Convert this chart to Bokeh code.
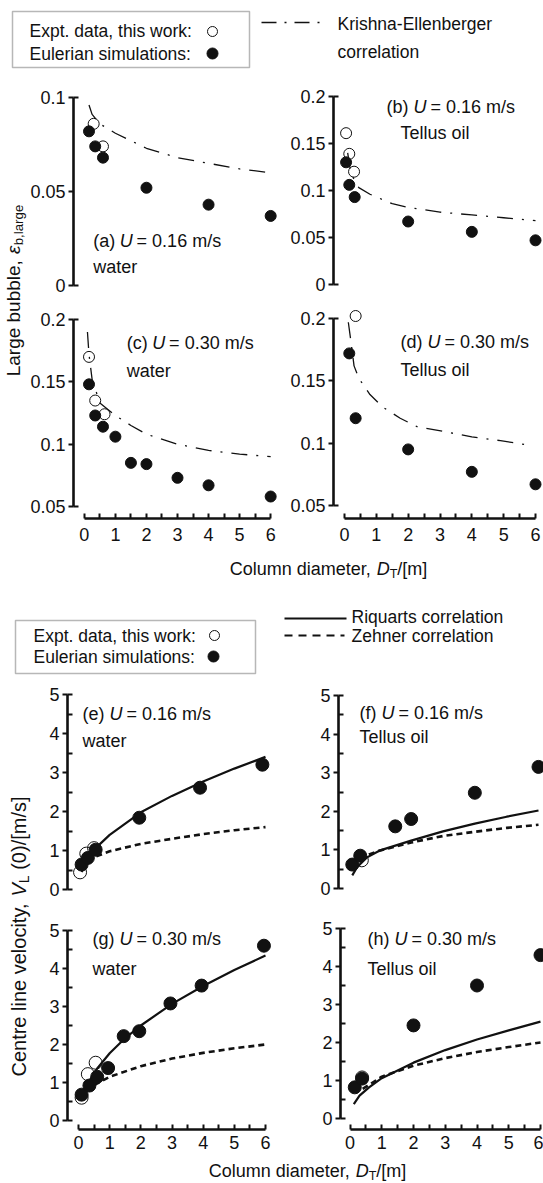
import math
from bokeh.plotting import figure
from bokeh.layouts import row, column
from bokeh.models import Range1d, FixedTicker, CustomJSTickFormatter, Label, BoxAnnotation
from bokeh.embed import file_html
from bokeh.resources import INLINE

FONT = "Liberation Sans"
INK = "#111111"

# ------------------------------------------------------------------
# Large-bubble hold-up eps_b,large [-] against column diameter D_T [m]
# ------------------------------------------------------------------
a_sim_d = [0.15, 0.35, 0.6, 2.0, 4.0, 6.0]
a_sim_eps = [0.082, 0.074, 0.068, 0.052, 0.043, 0.037]
a_exp_d = [0.3, 0.6]
a_exp_eps = [0.086, 0.074]
a_ke_d = [0.15, 0.25, 0.5, 1.0, 1.5, 2.0, 3.0, 4.0, 5.0, 6.0]
a_ke_eps = [0.096, 0.091, 0.086, 0.081, 0.077, 0.073, 0.068, 0.065, 0.062, 0.060]

b_sim_d = [0.05, 0.15, 0.32, 2.0, 4.0, 6.0]
b_sim_eps = [0.130, 0.106, 0.093, 0.067, 0.056, 0.047]
b_exp_d = [0.05, 0.15, 0.3]
b_exp_eps = [0.161, 0.139, 0.120]
b_ke_d = [0.1, 0.2, 0.45, 0.8, 1.5, 2.0, 3.0, 4.0, 5.0, 6.0]
b_ke_eps = [0.140, 0.118, 0.103, 0.096, 0.086, 0.082, 0.077, 0.074, 0.071, 0.068]

c_sim_d = [0.15, 0.35, 0.6, 1.0, 1.5, 2.0, 3.0, 4.0, 6.0]
c_sim_eps = [0.148, 0.123, 0.114, 0.106, 0.085, 0.084, 0.073, 0.067, 0.058]
c_exp_d = [0.15, 0.35, 0.65]
c_exp_eps = [0.170, 0.135, 0.124]
c_ke_d = [0.1, 0.15, 0.25, 0.5, 1.0, 1.5, 2.0, 3.0, 4.0, 5.0, 6.0]
c_ke_eps = [0.190, 0.172, 0.152, 0.133, 0.123, 0.115, 0.108, 0.100, 0.095, 0.092, 0.090]

d_sim_d = [0.15, 0.35, 2.0, 4.0, 6.0]
d_sim_eps = [0.172, 0.120, 0.095, 0.077, 0.067]
d_exp_d = [0.35]
d_exp_eps = [0.202]
d_ke_d = [0.12, 0.2, 0.3, 0.45, 0.8, 1.2, 1.75, 2.3, 3.2, 4.0, 4.9, 5.9]
d_ke_eps = [0.197, 0.182, 0.162, 0.152, 0.139, 0.129, 0.120, 0.113, 0.109, 0.105, 0.102, 0.098]

# ------------------------------------------------------------------
# Centre-line liquid velocity V_L(0) [m/s] against column diameter D_T [m]
# ------------------------------------------------------------------
e_sim_d = [0.1, 0.3, 0.55, 1.95, 3.9, 5.9]
e_sim_v = [0.64, 0.81, 1.02, 1.84, 2.61, 3.2]
e_exp_d = [0.05, 0.25, 0.5]
e_exp_v = [0.44, 0.92, 1.06]
e_riq_d = [0.1, 0.3, 0.6, 1.0, 2.0, 3.0, 4.0, 5.0, 6.0]
e_riq_v = [0.45, 0.77, 1.1, 1.4, 1.98, 2.4, 2.77, 3.1, 3.4]
e_zeh_d = [0.3, 0.5, 1.0, 2.0, 3.0, 4.0, 5.0, 6.0]
e_zeh_v = [0.72, 0.83, 0.98, 1.17, 1.30, 1.42, 1.52, 1.60]

f_sim_d = [0.15, 0.4, 1.5, 2.0, 4.0, 6.0]
f_sim_v = [0.62, 0.85, 1.61, 1.80, 2.48, 3.15]
f_exp_d = [0.45]
f_exp_v = [0.73]
f_riq_d = [0.15, 0.3, 0.6, 1.0, 2.0, 3.0, 4.0, 5.0, 6.0]
f_riq_v = [0.34, 0.55, 0.8, 0.98, 1.24, 1.48, 1.68, 1.86, 2.02]
f_zeh_d = [0.4, 0.7, 1.0, 2.0, 3.0, 4.0, 5.0, 6.0]
f_zeh_v = [0.75, 0.89, 0.98, 1.19, 1.36, 1.47, 1.57, 1.65]

g_sim_d = [0.1, 0.35, 0.6, 0.95, 1.45, 1.95, 2.95, 3.95, 5.95]
g_sim_v = [0.68, 0.92, 1.15, 1.38, 2.22, 2.35, 3.08, 3.55, 4.6]
g_exp_d = [0.1, 0.3, 0.55]
g_exp_v = [0.6, 1.22, 1.52]
g_riq_d = [0.15, 0.3, 0.6, 1.0, 1.5, 2.0, 3.0, 4.0, 5.0, 6.0]
g_riq_v = [0.69, 0.97, 1.37, 1.77, 2.17, 2.5, 3.07, 3.54, 3.96, 4.34]
g_zeh_d = [0.5, 1.0, 2.0, 3.0, 4.0, 5.0, 6.0]
g_zeh_v = [0.93, 1.15, 1.43, 1.63, 1.78, 1.9, 2.0]

h_sim_d = [0.15, 0.38, 2.0, 4.0, 6.0]
h_sim_v = [0.82, 1.05, 2.45, 3.5, 4.3]
h_exp_d = [0.38]
h_exp_v = [1.08]
h_riq_d = [0.12, 0.3, 0.6, 1.0, 2.0, 3.0, 4.0, 5.0, 6.0]
h_riq_v = [0.38, 0.6, 0.82, 1.06, 1.47, 1.8, 2.08, 2.32, 2.55]
h_zeh_d = [0.4, 1.0, 2.0, 3.0, 4.0, 5.0, 6.0]
h_zeh_v = [0.78, 1.1, 1.39, 1.59, 1.75, 1.88, 2.0]

# tick values
d_ticks = [0, 1, 2, 3, 4, 5, 6]
d_minor = [0.5, 1.5, 2.5, 3.5, 4.5, 5.5]
v_ticks = [0, 1, 2, 3, 4, 5]
v_minor = [0.5, 1.5, 2.5, 3.5, 4.5]

# ------------------------------------------------------------------
# text helpers (advance widths of Liberation Sans, per 1000 em)
# ------------------------------------------------------------------
ADV = {' ': 278, '(': 333, ')': 333, ',': 278, '-': 333, '.': 278, '/': 278,
       ':': 278, '=': 584, '[': 278, ']': 278, 'ε': 440}
for ch in '0123456789':
    ADV[ch] = 556
ADV.update(dict(zip('ABCDEFGHIJKLMNOPQRSTUVWXYZ',
                    [667, 667, 722, 722, 667, 611, 778, 722, 278, 500, 667, 556, 833,
                     722, 778, 667, 778, 722, 667, 611, 722, 667, 944, 667, 667, 611])))
ADV.update(dict(zip('abcdefghijklmnopqrstuvwxyz',
                    [556, 556, 500, 556, 556, 278, 556, 556, 222, 222, 500, 222, 833,
                     556, 556, 556, 556, 333, 500, 278, 556, 500, 722, 500, 500, 500])))


def tw(s, size):
    return sum(ADV.get(c, 556) for c in s) * size / 1000.0


def put(p, x, y, text, size=18, style="normal", angle=0.0, align="left"):
    """Text whose vertical middle sits at y."""
    p.add_layout(Label(x=x, y=y, text=text, text_font=FONT,
                       text_font_size=f"{size}px", text_font_style=style,
                       text_color=INK, text_baseline="middle",
                       text_align=align, angle=angle))


def rich(p, x, c, parts, size, along_x=True, angle=0.0):
    """Run of pieces: (text, style, is_subscript, gap_before in em)."""
    pos = x
    for text, style, sub, gap in parts:
        sz = size * 0.7 if sub else size
        off = 0.28 * size if sub else 0.0
        if along_x:
            pos += gap * size
            put(p, pos, c + off, text, sz, style)
            pos += tw(text, sz)
        else:
            # reads upwards: advancing means a smaller page y
            pos -= gap * size
            put(p, c + off, pos, text, sz, style, angle=angle)
            pos -= tw(text, sz)


def run_width(parts, size):
    return sum(tw(t, size * 0.7 if sub else size) + g * size for t, _, sub, g in parts)


def plain(ox, oy, w, h):
    """A figure without axes whose data units are page pixels (y downwards)."""
    p = figure(width=w, height=h, x_range=Range1d(ox, ox + w),
               y_range=Range1d(oy + h, oy), output_backend="svg",
               toolbar_location=None, x_axis_location=None, y_axis_location=None,
               min_border_left=0, min_border_right=0, min_border_top=0,
               min_border_bottom=0)
    p.outline_line_color = None
    p.grid.visible = False
    return p


class Panel:
    def __init__(self, ox, oy, w, h, frame, xcal, ycal, yticks, yminor, ybounds,
                 x_axis, mk):
        fl, fr, ft, fb = frame
        self.xcal, self.ycal, self.mk = xcal, ycal, mk
        p = figure(width=w, height=h,
                   x_range=Range1d(self.xv(fl), self.xv(fr)),
                   y_range=Range1d(self.yv(fb), self.yv(ft)),
                   min_border_left=fl - ox, min_border_right=ox + w - fr,
                   min_border_top=ft - oy, min_border_bottom=oy + h - fb,
                   output_backend="svg", toolbar_location=None,
                   x_axis_location="below" if x_axis else None)
        p.outline_line_color = None
        p.grid.visible = False
        fmt = CustomJSTickFormatter(code="return String(tick)")
        ya = p.yaxis[0]
        ya.bounds = (ybounds[0] - 1e-9, ybounds[1] + 1e-9)
        ya.ticker = FixedTicker(ticks=yticks, minor_ticks=yminor)
        ya.formatter = fmt
        ya.major_tick_in, ya.major_tick_out = 0, 5
        ya.minor_tick_in, ya.minor_tick_out = 5, 0
        ya.major_label_standoff = 3
        if x_axis:
            xa = p.xaxis[0]
            xa.bounds = (-1e-9, 6 + 1e-9)
            xa.ticker = FixedTicker(ticks=d_ticks, minor_ticks=d_minor)
            xa.formatter = fmt
            xa.major_tick_in, xa.major_tick_out = 5, 0
            xa.minor_tick_in, xa.minor_tick_out = 5, 0
            xa.major_label_standoff = x_axis
        for ax in p.axis:
            ax.axis_line_width = 2.6
            ax.axis_line_color = INK
            ax.major_tick_line_width = 2
            ax.minor_tick_line_width = 2
            ax.major_tick_line_color = INK
            ax.minor_tick_line_color = INK
            ax.major_label_text_font = FONT
            ax.major_label_text_font_size = "18px"
            ax.major_label_text_color = INK
        self.p = p

    def xv(self, px):
        v0, p0, v1, p1 = self.xcal
        return v0 + (px - p0) * (v1 - v0) / (p1 - p0)

    def yv(self, py):
        v0, p0, v1, p1 = self.ycal
        return v0 + (py - p0) * (v1 - v0) / (p1 - p0)

    def points(self, ex, ey, sx, sy):
        self.p.scatter(ex, ey, size=self.mk, marker="circle", fill_color=None,
                       line_color=INK, line_width=1)
        self.p.scatter(sx, sy, size=self.mk, marker="circle", fill_color=INK,
                       line_color=INK, line_width=1)

    def caption(self, x, yc, tag, speed, x2, yc2, fluid, size=18):
        p = self.p
        put(p, self.xv(x), self.yv(yc), tag, size)
        x += tw(tag + " ", size)
        put(p, self.xv(x), self.yv(yc), "U", size, "italic")
        x += tw("U ", size) - 1
        put(p, self.xv(x), self.yv(yc), "= " + speed + " m/s", size)
        put(p, self.xv(x2), self.yv(yc2), fluid, size)


KE = dict(line_color=INK, line_width=1.3, line_dash="16 9 2 9")
RIQ = dict(line_color=INK, line_width=2.2)
ZEH = dict(line_color=INK, line_width=2.6, line_dash="6 4")

# ---------------- top legend ----------------
leg1 = plain(0, 0, 543, 86)
leg1.add_layout(BoxAnnotation(left=12, right=249, top=11, bottom=67,
                              fill_color=None, line_color=INK, line_width=1.5))
put(leg1, 29, 30, "Expt. data, this work:", 17.5)
put(leg1, 29, 53, "Eulerian simulations:", 17.5)
leg1.scatter([212], [31], size=10, fill_color=None, line_color=INK, line_width=1)
leg1.scatter([212], [53], size=11, fill_color=INK, line_color=INK)
leg1.line([261, 322], [22, 22], line_color=INK, line_width=1.6, line_dash="15 8 2 8")
put(leg1, 337, 23, "Krishna-Ellenberger", 17.5)
put(leg1, 337, 51, "correlation", 17.5)

# ---------------- hold-up panels ----------------
A = Panel(27, 86, 255, 214, (70, 282, 90, 290), (0, 81, 6, 270), (0, 285, 0.05, 191),
          [0, 0.05, 0.1], [0, 0.1], (0, 0.1), None, 11)
A.p.line(a_ke_d, a_ke_eps, **KE)
A.points(a_exp_d, a_exp_eps, a_sim_d, a_sim_eps)
A.caption(90, 240, "(a)", "0.16", 90, 266, "water")

B = Panel(282, 86, 261, 214, (333, 543, 90, 290), (0, 344, 6, 535), (0, 284, 0.05, 237),
          [0, 0.05, 0.1, 0.15, 0.2], [0, 0.2], (0, 0.2), None, 11)
B.p.line(b_ke_d, b_ke_eps, **KE)
B.points(b_exp_d, b_exp_eps, b_sim_d, b_sim_eps)
B.caption(386, 106, "(b)", "0.16", 400, 132, "Tellus oil")

C = Panel(27, 300, 255, 254, (70, 282, 304, 518), (0, 81, 6, 270), (0.05, 506, 0.2, 319),
          [0.05, 0.1, 0.15, 0.2], [0.05, 0.2], (0.05, 0.2), 9, 11)
C.p.line(c_ke_d, c_ke_eps, **KE)
C.points(c_exp_d, c_exp_eps, c_sim_d, c_sim_eps)
C.caption(124, 342, "(c)", "0.30", 124, 370, "water")

D = Panel(282, 300, 261, 254, (333, 543, 304, 518), (0, 344, 6, 535), (0.05, 505, 0.2, 318),
          [0.05, 0.1, 0.15, 0.2], [0.05, 0.2], (0.05, 0.2), 9, 11)
D.p.line(d_ke_d, d_ke_eps, **KE)
D.points(d_exp_d, d_exp_eps, d_sim_d, d_sim_eps)
D.caption(400, 341, "(d)", "0.30", 400, 369, "Tellus oil")

strip1 = plain(0, 86, 27, 468)
ytitle1 = [("Large bubble,", "normal", False, 0), ("ε", "italic", False, 0.32),
           ("b,large", "normal", True, 0.02)]
s1 = 19
rich(strip1, 290 + run_width(ytitle1, s1) / 2, 13, ytitle1, s1,
     along_x=False, angle=math.pi / 2)

# ---------------- x title + velocity legend ----------------
mid = plain(0, 554, 543, 128)
xtitle = [("Column diameter,", "normal", False, 0), ("D", "italic", False, 0.278),
          ("T", "normal", True, 0.0), ("/[m]", "normal", False, 0.0)]
rich(mid, 328 - run_width(xtitle, 18) / 2, 568, xtitle, 18)
mid.add_layout(BoxAnnotation(left=15, right=255, top=620, bottom=673,
                             fill_color=None, line_color=INK, line_width=1.5))
put(mid, 33, 635, "Expt. data, this work:", 17.5)
put(mid, 33, 656, "Eulerian simulations:", 17.5)
mid.scatter([214], [635], size=10, fill_color=None, line_color=INK, line_width=1)
mid.scatter([213], [656], size=11, fill_color=INK, line_color=INK)
mid.line([284, 346], [618, 618], line_color=INK, line_width=2)
mid.line([284, 344], [635, 635], line_color=INK, line_width=2, line_dash="8 6")
put(mid, 351, 616, "Riquarts correlation", 17.5)
put(mid, 351, 635, "Zehner correlation", 17.5)

# ---------------- velocity panels ----------------
E = Panel(32, 682, 253, 220, (67, 285, 686, 892), (0, 78, 6, 265), (0, 889, 5, 694),
          v_ticks, v_minor + [0, 5], (0, 5), None, 13)
E.p.line(e_zeh_d, e_zeh_v, **ZEH)
E.p.line(e_riq_d, e_riq_v, **RIQ)
E.points(e_exp_d, e_exp_v, e_sim_d, e_sim_v)
E.caption(82, 713, "(e)", "0.16", 82, 740, "water")

F = Panel(285, 682, 258, 220, (338, 543, 686, 892), (0, 347, 6, 538), (0, 888, 5, 695),
          v_ticks, v_minor + [0, 5], (0, 5), None, 13)
F.p.line(f_zeh_d, f_zeh_v, **ZEH)
F.p.line(f_riq_d, f_riq_v, **RIQ)
F.points(f_exp_d, f_exp_v, f_sim_d, f_sim_v)
F.caption(359, 712, "(f)", "0.16", 359, 736, "Tellus oil")

G = Panel(32, 902, 253, 257, (67, 285, 906, 1129), (0, 78, 6, 265), (0, 1120, 5, 930),
          v_ticks, v_minor + [0, 5], (0, 5), 6, 13)
G.p.line(g_zeh_d, g_zeh_v, **ZEH)
G.p.line(g_riq_d, g_riq_v, **RIQ)
G.points(g_exp_d, g_exp_v, g_sim_d, g_sim_v)
G.caption(92, 938, "(g)", "0.30", 92, 968, "water")

H = Panel(285, 902, 258, 257, (340, 543, 906, 1129), (0, 349.5, 6, 540), (0, 1118, 5, 928),
          v_ticks, v_minor + [0, 5], (0, 5), 6, 13)
H.p.line(h_zeh_d, h_zeh_v, **ZEH)
H.p.line(h_riq_d, h_riq_v, **RIQ)
H.points(h_exp_d, h_exp_v, h_sim_d, h_sim_v)
H.caption(367, 938, "(h)", "0.30", 367, 968, "Tellus oil")

strip2 = plain(0, 682, 32, 477)
ytitle2 = [("Centre line velocity,", "normal", False, 0), ("V", "italic", False, 0.278),
           ("L", "normal", True, 0.0), ("(0)/[m/s]", "normal", False, 0.278)]
s2 = 20
rich(strip2, 936 + run_width(ytitle2, s2) / 2, 18, ytitle2, s2,
     along_x=False, angle=math.pi / 2)

bottom = plain(0, 1159, 543, 24)
rich(bottom, 307 - run_width(xtitle, 18) / 2, 1170, xtitle, 18)

# ---------------- page ----------------
page = column(
    leg1,
    row(strip1, column(row(A.p, B.p), row(C.p, D.p))),
    mid,
    row(strip2, column(row(E.p, F.p), row(G.p, H.p))),
    bottom,
)

open("out.html", "w").write(file_html(page, INLINE))
